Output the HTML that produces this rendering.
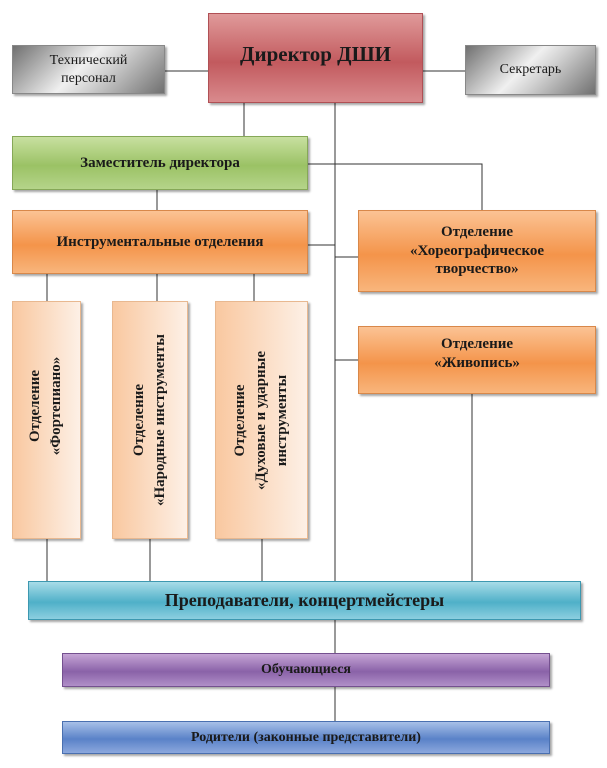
<!DOCTYPE html>
<html><head><meta charset="utf-8"><style>
body{margin:0;width:607px;height:768px;background:#fff;position:relative;overflow:hidden;font-family:"Liberation Serif",serif;}
.b{position:absolute;box-sizing:border-box;display:flex;align-items:center;justify-content:center;text-align:center;font-weight:bold;color:#1a1a1a;box-shadow:2px 2px 2px rgba(0,0,0,0.35);line-height:1.25;}
.g{background:linear-gradient(135deg,#707070,#f0f0f0 45%,#d0d0d0 60%,#707070);border:1px solid #888;font-weight:normal;font-size:14px;}
.r{background:linear-gradient(#e09a9a,#c25a5e 55%,#d98a8d);border:1px solid #b05055;}
.gr{background:linear-gradient(#c8e0a0,#9bc265 55%,#b5d48a);border:1px solid #86a858;}
.o{background:linear-gradient(#fbc394,#f4944a 55%,#f8b57c);border:1px solid #d8884a;}
.v{background:linear-gradient(90deg,#f9c8a0,#fdf0e6);border:1px solid #e8b890;}
.c{background:linear-gradient(#a8dce8,#4fb0c8 55%,#8ccfe0);border:1px solid #3d98b0;}
.p{background:linear-gradient(#c5a5d5,#8a62a8 55%,#b08fc8);border:1px solid #74508f;}
.bl{background:linear-gradient(#a8c0e8,#5a82c8 55%,#8ca8dd);border:1px solid #4a70b0;}
.rot{transform:rotate(-90deg);white-space:nowrap;font-size:15px;line-height:1.4;}
</style></head><body>
<svg width="607" height="768" style="position:absolute;left:0;top:0" stroke="#333" stroke-width="1" fill="none">
<line x1="165" y1="71" x2="465" y2="71"/>
<line x1="244" y1="103" x2="244" y2="136"/>
<line x1="335" y1="103" x2="335" y2="581"/>
<polyline points="308,164 482,164 482,210"/>
<line x1="157" y1="190" x2="157" y2="210"/>
<line x1="308" y1="245" x2="335" y2="245"/>
<line x1="335" y1="257" x2="358" y2="257"/>
<line x1="335" y1="360" x2="358" y2="360"/>
<line x1="472" y1="394" x2="472" y2="581"/>
<line x1="47" y1="274" x2="47" y2="301"/>
<line x1="157" y1="274" x2="157" y2="301"/>
<line x1="254" y1="274" x2="254" y2="301"/>
<line x1="47" y1="539" x2="47" y2="581"/>
<line x1="150" y1="539" x2="150" y2="581"/>
<line x1="262" y1="539" x2="262" y2="581"/>
<line x1="335" y1="620" x2="335" y2="653"/>
<line x1="335" y1="687" x2="335" y2="721"/>
</svg>
<div class="b g" style="left:12px;top:45px;width:153px;height:49px;">Технический<br>персонал</div>
<div class="b r" style="left:208px;top:13px;width:215px;height:90px;font-size:21px;padding-bottom:8px;">Директор ДШИ</div>
<div class="b g" style="left:465px;top:45px;width:131px;height:50px;">Секретарь</div>
<div class="b gr" style="left:12px;top:136px;width:296px;height:54px;font-size:15px;">Заместитель директора</div>
<div class="b o" style="left:12px;top:210px;width:296px;height:64px;font-size:15px;">Инструментальные отделения</div>
<div class="b o" style="left:358px;top:210px;width:238px;height:82px;font-size:15px;">Отделение<br>«Хореографическое<br>творчество»</div>
<div class="b o" style="left:358px;top:326px;width:238px;height:68px;font-size:15px;align-items:flex-start;padding-top:8px;">Отделение<br>«Живопись»</div>
<div class="b v" style="left:12px;top:301px;width:69px;height:238px;"><div class="rot" style="margin-bottom:28px">Отделение<br>«Фортепиано»</div></div>
<div class="b v" style="left:112px;top:301px;width:76px;height:238px;"><div class="rot">Отделение<br>«Народные инструменты</div></div>
<div class="b v" style="left:215px;top:301px;width:93px;height:238px;"><div class="rot">Отделение<br>«Духовые и ударные<br>инструменты</div></div>
<div class="b c" style="left:28px;top:581px;width:553px;height:39px;font-size:18px;">Преподаватели, концертмейстеры</div>
<div class="b p" style="left:62px;top:653px;width:488px;height:34px;font-size:14px;">Обучающиеся</div>
<div class="b bl" style="left:62px;top:721px;width:488px;height:33px;font-size:14px;">Родители (законные представители)</div>
</body></html>
